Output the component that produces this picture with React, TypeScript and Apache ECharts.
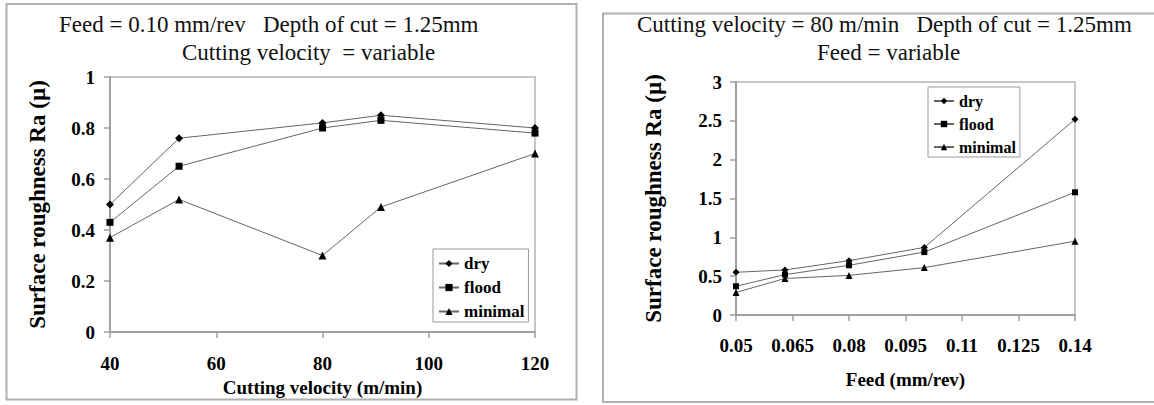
import React, { useEffect, useRef } from "react";
import * as echarts from "echarts";

// Left chart: cutting velocity variable
const velocity = [40, 53, 80, 91, 120];
const dryVel = [0.5, 0.76, 0.82, 0.85, 0.8];
const floodVel = [0.43, 0.65, 0.8, 0.83, 0.78];
const minimalVel = [0.37, 0.52, 0.3, 0.49, 0.7];

// Right chart: feed variable
const feed = [0.05, 0.063, 0.08, 0.1, 0.14];
const dryFeed = [0.55, 0.58, 0.7, 0.87, 2.52];
const floodFeed = [0.37, 0.52, 0.64, 0.81, 1.58];
const minimalFeed = [0.29, 0.47, 0.51, 0.61, 0.95];
const feedTicks = [0.05, 0.065, 0.08, 0.095, 0.11, 0.125, 0.14];

const seriesNames = ["dry", "flood", "minimal"];
const symbols = ["diamond", "rect", "triangle"];

const FONT = "Liberation Serif";
const AXIS_GRAY = "#a0a0a0";
const LINE_GRAY = "#666666";

function zip(xs: number[], ys: number[]) {
  return xs.map((x, i) => [x, ys[i]]);
}

export default function App() {
  const ref = useRef<HTMLDivElement>(null);
  useEffect(() => {
    if (!ref.current) return;
    const chart = echarts.init(ref.current, undefined, { renderer: "svg" });

    const axisCommon = {
      axisLine: { show: true, lineStyle: { color: AXIS_GRAY, width: 2 } },
      axisTick: { show: true, inside: false, length: 6, lineStyle: { color: AXIS_GRAY, width: 1.5 } },
      splitLine: { show: false },
    };
    const labelStyle = { color: "#000", fontFamily: FONT, fontWeight: "bold" as const, fontSize: 19 };
    const nameStyleX = { color: "#000", fontFamily: FONT, fontWeight: "bold" as const, fontSize: 19 };
    const nameStyleY = { color: "#000", fontFamily: FONT, fontWeight: "bold" as const, fontSize: 23 };

    const velData = [dryVel, floodVel, minimalVel];
    const feedData = [dryFeed, floodFeed, minimalFeed];

    const mkSeries = (xs: number[], ys: number[], i: number, idx: number, size: number) => ({
      type: "line",
      name: seriesNames[i],
      xAxisIndex: idx,
      yAxisIndex: idx,
      data: zip(xs, ys),
      symbol: symbols[i],
      symbolSize: symbols[i] === "rect" ? size - 1 : size,
      showSymbol: true,
      lineStyle: { color: LINE_GRAY, width: 1 },
      itemStyle: { color: "#000" },
      emphasis: { disabled: true },
    });

    const titleText = (text: string, left: number, top: number) => ({
      text,
      left,
      top,
      padding: 0,
      textStyle: { color: "#111", fontFamily: FONT, fontWeight: "normal" as const, fontSize: 23, lineHeight: 23 },
    });

    chart.setOption({
      animation: false,
      backgroundColor: "#fff",
      textStyle: { fontFamily: FONT },
      title: [
        titleText("Feed = 0.10 mm/rev   Depth of cut = 1.25mm", 59, 13),
        titleText("Cutting velocity  = variable", 182, 41),
        titleText("Cutting velocity = 80 m/min   Depth of cut = 1.25mm", 637, 13),
        titleText("Feed = variable", 817, 41),
      ],
      graphic: [
        {
          type: "rect",
          shape: { x: 6.5, y: 4, width: 570, height: 395.5 },
          style: { fill: "none", stroke: "#b0b0b0", lineWidth: 2 },
          silent: true,
        },
        {
          type: "rect",
          shape: { x: 603, y: 13.5, width: 570, height: 388.5 },
          style: { fill: "none", stroke: "#b0b0b0", lineWidth: 2 },
          silent: true,
        },
      ],
      legend: [
        {
          orient: "vertical",
          left: 433,
          top: 249,
          padding: [6, 4, 2, 5],
          itemGap: 7,
          itemWidth: 20,
          itemHeight: 9,
          borderColor: "#999",
          borderWidth: 1,
          data: seriesNames,
          selectedMode: false,
          textStyle: { color: "#000", fontFamily: FONT, fontWeight: "bold", fontSize: 17, lineHeight: 16 },
        },
        {
          orient: "vertical",
          left: 928,
          top: 87,
          padding: [6, 4, 2, 5],
          itemGap: 7,
          itemWidth: 20,
          itemHeight: 8,
          borderColor: "#999",
          borderWidth: 1,
          data: seriesNames,
          selectedMode: false,
          textStyle: { color: "#000", fontFamily: FONT, fontWeight: "bold", fontSize: 16, lineHeight: 16 },
        },
      ],
      grid: [
        { left: 110, top: 77, width: 425, height: 255, show: true, borderColor: "#b5b5b5", borderWidth: 1.5, backgroundColor: "transparent" },
        { left: 736, top: 82, width: 339, height: 233, show: true, borderColor: "#b5b5b5", borderWidth: 1.5, backgroundColor: "transparent" },
      ],
      xAxis: [
        {
          type: "value",
          gridIndex: 0,
          min: 40,
          max: 120,
          interval: 20,
          ...axisCommon,
          axisLabel: { ...labelStyle, margin: 22 },
          name: "Cutting velocity (m/min)",
          nameLocation: "middle",
          nameGap: 45,
          nameTextStyle: nameStyleX,
        },
        {
          type: "value",
          gridIndex: 1,
          min: 0.05,
          max: 0.14,
          ...axisCommon,
          axisTick: { ...axisCommon.axisTick, customValues: feedTicks },
          axisLabel: {
            ...labelStyle,
            margin: 21,
            customValues: feedTicks,
            formatter: (v: number) => String(+v.toFixed(3)),
          },
          name: "Feed (mm/rev)",
          nameLocation: "middle",
          nameGap: 55,
          nameTextStyle: nameStyleX,
        },
      ],
      yAxis: [
        {
          type: "value",
          gridIndex: 0,
          min: 0,
          max: 1,
          interval: 0.2,
          ...axisCommon,
          axisLabel: { ...labelStyle, margin: 15 },
          name: "Surface roughness Ra (µ)",
          nameLocation: "middle",
          nameGap: 61,
          nameTextStyle: nameStyleY,
        },
        {
          type: "value",
          gridIndex: 1,
          min: 0,
          max: 3,
          interval: 0.5,
          ...axisCommon,
          axisLabel: { ...labelStyle, margin: 14 },
          name: "Surface roughness Ra (µ)",
          nameLocation: "middle",
          nameGap: 71,
          nameTextStyle: nameStyleY,
        },
      ],
      series: [
        ...velData.map((ys, i) => mkSeries(velocity, ys, i, 0, 8)),
        ...feedData.map((ys, i) => mkSeries(feed, ys, i, 1, 7)),
      ],
    });

    return () => chart.dispose();
  }, []);

  return (
    <div
      ref={ref}
      style={{ position: "fixed", left: 0, top: 0, width: 1154, height: 405, background: "#fff" }}
    />
  );
}
